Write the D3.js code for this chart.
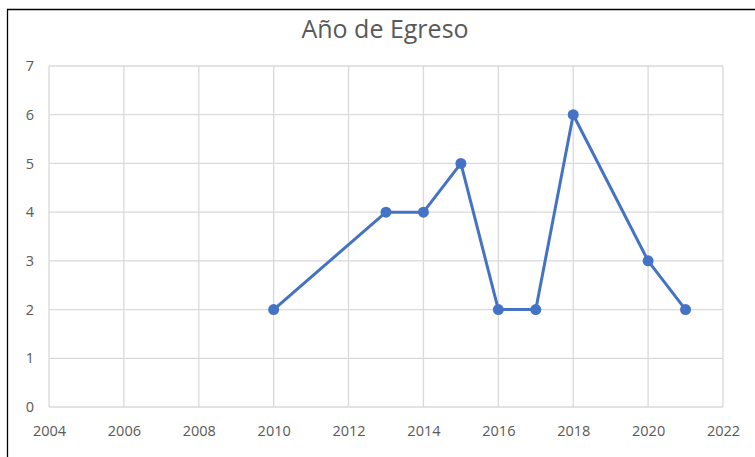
<!DOCTYPE html>
<html>
<head>
<meta charset="utf-8">
<script src="https://cdn.jsdelivr.net/npm/d3@7"></script>
<style>
  body { margin: 0; background: #fff; }
  svg { display: block; font-family: "Open Sans", "Noto Sans", sans-serif; }
</style>
</head>
<body>
<div id="chart"></div>
<script>
const years = [2010, 2013, 2014, 2015, 2016, 2017, 2018, 2020, 2021];
const counts = [2, 4, 4, 5, 2, 2, 6, 3, 2];
const xTicks = [2004, 2006, 2008, 2010, 2012, 2014, 2016, 2018, 2020, 2022];
const yTicks = [0, 1, 2, 3, 4, 5, 6, 7];

const width = 755;
const height = 457;
const margin = {top: 66, right: 32, bottom: 50, left: 49};

const svg = d3.select("#chart")
    .append("svg")
    .attr("width", width)
    .attr("height", height);

// outer frame (cut off at right and bottom like the screenshot)
svg.append("path")
    .attr("d", `M7.5,${height + 2}V9.5H${width + 2}`)
    .attr("fill", "none")
    .attr("stroke", "#000")
    .attr("stroke-width", 1.3);

const x = d3.scaleLinear()
    .domain([2004, 2022])
    .range([margin.left, width - margin.right]);

const y = d3.scaleLinear()
    .domain([0, 7])
    .range([height - margin.bottom, margin.top]);

// grid
svg.append("g")
    .attr("stroke", "#d9d9d9")
    .attr("stroke-width", 1.3)
    .selectAll("line.v")
    .data(xTicks)
    .join("line")
    .attr("x1", d => x(d)).attr("x2", d => x(d))
    .attr("y1", y(0)).attr("y2", y(7));

svg.append("g")
    .attr("stroke", "#d9d9d9")
    .attr("stroke-width", 1.3)
    .selectAll("line.h")
    .data(yTicks)
    .join("line")
    .attr("x1", x(2004)).attr("x2", x(2022))
    .attr("y1", d => y(d)).attr("y2", d => y(d));

// axes labels
const xAxis = svg.append("g")
    .attr("transform", `translate(0,${y(0) + 16})`)
    .call(d3.axisBottom(x).tickValues(xTicks).tickSize(0).tickFormat(d3.format("d")));
xAxis.select(".domain").remove();
xAxis.selectAll("text")
    .attr("fill", "#595959")
    .attr("font-size", 14.5)
    .attr("font-family", "Open Sans, sans-serif");

const yAxis = svg.append("g")
    .attr("transform", `translate(${x(2004) - 12},0)`)
    .call(d3.axisLeft(y).tickValues(yTicks).tickSize(0).tickFormat(d3.format("d")));
yAxis.select(".domain").remove();
yAxis.selectAll("text")
    .attr("fill", "#595959")
    .attr("font-size", 14.5)
    .attr("font-family", "Open Sans, sans-serif");

// title
svg.append("text")
    .attr("x", 385)
    .attr("y", 38)
    .attr("text-anchor", "middle")
    .attr("fill", "#595959")
    .attr("font-size", 25)
    .text("Año de Egreso");

const data = years.map((d, i) => ({year: d, value: counts[i]}));

const line = d3.line()
    .x(d => x(d.year))
    .y(d => y(d.value));

svg.append("path")
    .datum(data)
    .attr("fill", "none")
    .attr("stroke", "#4472c4")
    .attr("stroke-width", 3)
    .attr("stroke-linejoin", "round")
    .attr("d", line);

svg.append("g")
    .selectAll("circle")
    .data(data)
    .join("circle")
    .attr("cx", d => x(d.year))
    .attr("cy", d => y(d.value))
    .attr("r", 5.5)
    .attr("fill", "#4472c4");
</script>
</body>
</html>
